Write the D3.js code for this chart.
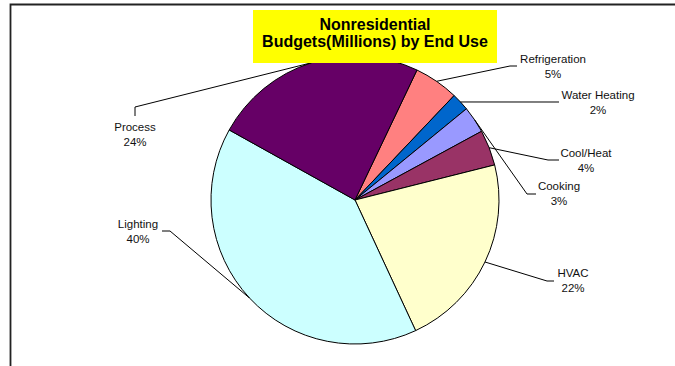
<!DOCTYPE html>
<html>
<head>
<meta charset="utf-8">
<script src="https://cdn.jsdelivr.net/npm/d3@7"></script>
<style>
  html, body { margin: 0; padding: 0; background: #fff; }
  svg { display: block; }
  text { font-family: "Liberation Sans", Arial, sans-serif; }
</style>
</head>
<body>
<svg id="chart" width="675" height="366"></svg>
<script>
// End-use categories, clockwise from the first slice
const categories = ["Refrigeration", "Water Heating", "Cooking", "Cool/Heat", "HVAC", "Lighting", "Process"];
// Share of the nonresidential budget (percent)
const values = [5, 2, 3, 4, 22, 40, 24];
const colors = ["#FF8080", "#0066CC", "#9999FF", "#993366", "#FFFFCC", "#CCFFFF", "#660066"];
const titleLines = ["Nonresidential", "Budgets(Millions) by End Use"];

// Label placement: text anchor, leader elbow and leader end
const labelLayout = {
  "Refrigeration": { tx: 553, ty: 63,  elbow: [510, 66],  end: [517, 66] },
  "Water Heating": { tx: 598, ty: 99,  elbow: null,       end: [559, 102] },
  "Cooking":       { tx: 559, ty: 190, elbow: [527, 194], end: [536, 194] },
  "Cool/Heat":     { tx: 586, ty: 157, elbow: [548, 160], end: [559, 160] },
  "HVAC":          { tx: 573, ty: 277, elbow: [547, 281], end: [554, 281] },
  "Lighting":      { tx: 138, ty: 228, elbow: [170, 231], end: [162, 231] },
  "Process":       { tx: 135, ty: 131, elbow: [135, 107], end: [135, 116] }
};

const svg = d3.select("#chart");
const cx = 355, cy = 200, radius = 144;
const startDeg = 25.5;

// Plot frame (top and left edges)
svg.append("path")
  .attr("d", "M10.5,366 L10.5,4.5 L675,4.5")
  .attr("fill", "none")
  .attr("stroke", "#222")
  .attr("stroke-width", 1.8);

const data = categories.map((c, i) => ({ name: c, value: values[i], color: colors[i] }));
const total = d3.sum(values);

const pie = d3.pie()
  .value(d => d.value)
  .sort(null)
  .startAngle(startDeg * Math.PI / 180)
  .endAngle(startDeg * Math.PI / 180 + 2 * Math.PI);

const arc = d3.arc().innerRadius(0).outerRadius(radius);
const arcs = pie(data);

const g = svg.append("g").attr("transform", `translate(${cx},${cy})`);
g.selectAll("path.slice")
  .data(arcs)
  .join("path")
  .attr("class", "slice")
  .attr("d", arc)
  .attr("fill", d => d.data.color)
  .attr("stroke", "#000")
  .attr("stroke-width", 1)
  .attr("stroke-linejoin", "round");

// Leader lines from slice midpoints to labels
const line = d3.line();
arcs.forEach(a => {
  const mid = (a.startAngle + a.endAngle) / 2;
  const edge = [cx + radius * Math.sin(mid), cy - radius * Math.cos(mid)];
  const L = labelLayout[a.data.name];
  const pts = [edge];
  if (L.elbow) pts.push(L.elbow);
  pts.push(L.end);
  svg.append("path")
    .attr("d", line(pts))
    .attr("fill", "none")
    .attr("stroke", "#000")
    .attr("stroke-width", 1);

  const t = svg.append("text")
    .attr("x", L.tx)
    .attr("y", L.ty)
    .attr("text-anchor", "middle")
    .attr("font-size", "11.5px")
    .attr("fill", "#111");
  t.append("tspan").attr("x", L.tx).text(a.data.name);
  t.append("tspan").attr("x", L.tx).attr("dy", 14.5)
    .text(Math.round(a.data.value / total * 100) + "%");
});

// Title box
svg.append("rect")
  .attr("x", 253).attr("y", 10)
  .attr("width", 244).attr("height", 53)
  .attr("fill", "#FFFF00");
titleLines.forEach((s, i) => {
  svg.append("text")
    .attr("x", 375).attr("y", 30 + i * 17)
    .attr("text-anchor", "middle")
    .attr("font-size", "16px")
    .attr("font-weight", "bold")
    .attr("fill", "#000")
    .text(s);
});
</script>
</body>
</html>
